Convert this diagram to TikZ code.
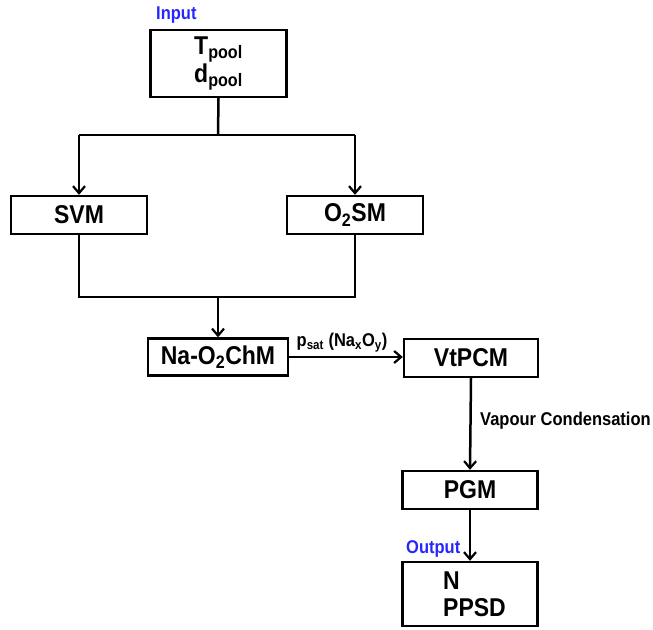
\documentclass[tikz,border=0pt]{standalone}
\usepackage{fontspec}
\setmainfont{Liberation Sans}
\usetikzlibrary{arrows.meta}
\newcommand{\tall}[1]{\scalebox{1}[1.12]{#1}}
\begin{document}
\begin{tikzpicture}[x=1pt,y=-1pt,
  box/.style={draw,line width=2.4pt,minimum width=136pt,inner sep=0pt,font=\fontsize{23}{26}\selectfont\bfseries},
  conn/.style={line width=2.5pt},
  arr/.style={line width=2.5pt,-{Straight Barb[length=7pt,width=12pt,line width=2.2pt]}},
  lbl/.style={font=\fontsize{16.5}{18}\selectfont\bfseries,inner sep=0pt},
  tag/.style={font=\fontsize{16.5}{18}\selectfont\bfseries,text=blue!85!white,inner sep=0pt}]
\useasboundingbox (0,0) rectangle (653,629);
\node[box,minimum height=67pt,align=left] (inp) at (218.5,63.5) {\tall{T\textsubscript{pool}}\\[1pt]\tall{d\textsubscript{pool}}};
\node[tag,anchor=west] (inlbl) at (156,15) {\tall{Input}};
\node[box,minimum height=38pt] (svm) at (79,215) {\tall{SVM}};
\node[box,minimum height=38pt] (o2sm) at (355,215) {\tall{O\textsubscript{2}SM}};
\node[box,minimum width=140pt,minimum height=37pt] (na) at (218,357) {\tall{Na-O\textsubscript{2}ChM}};
\node[box,minimum width=134pt,minimum height=38pt] (vt) at (471,358) {\tall{VtPCM}};
\node[box,minimum width=135pt,minimum height=38pt] (pgm) at (470,490) {\tall{PGM}};
\node[box,minimum width=135pt,minimum height=64pt] (out) at (470,594) {};
\node[font=\fontsize{23}{26}\selectfont\bfseries,anchor=west,inner sep=0pt,align=left] (outtxt) at (443,594) {\tall{N}\\[1pt]\tall{PPSD}};
\node[tag,anchor=west] (outlbl) at (406,549) {\tall{Output}};
\coordinate (j1) at (218,135);
\coordinate (j1l) at (79,135);
\coordinate (j1r) at (355,135);
\coordinate (j2) at (218,297);
\coordinate (j2l) at (79,297);
\coordinate (j2r) at (355,297);
\draw[conn] (inp.south) -- (j1);
\draw[conn] (j1l) -- (j1r);
\draw[arr] (j1l) -- (svm.north);
\draw[arr] (j1r) -- (o2sm.north);
\draw[conn] (svm.south) -- (j2l) -- (j2r) -- (o2sm.south);
\draw[arr] (j2) -- (na.north);
\draw[arr] (na.east) -- (vt.west |- na.east);
\node[lbl,anchor=south] (plbl) at (342,352) {\tall{p\textsubscript{sat} (Na\textsubscript{x}O\textsubscript{y})}};
\draw[arr] (vt.south) -- (pgm.north);
\node[lbl,anchor=west] (vclbl) at (480,421) {\tall{Vapour Condensation}};
\draw[arr] (pgm.south) -- (out.north);
\end{tikzpicture}
\end{document}
